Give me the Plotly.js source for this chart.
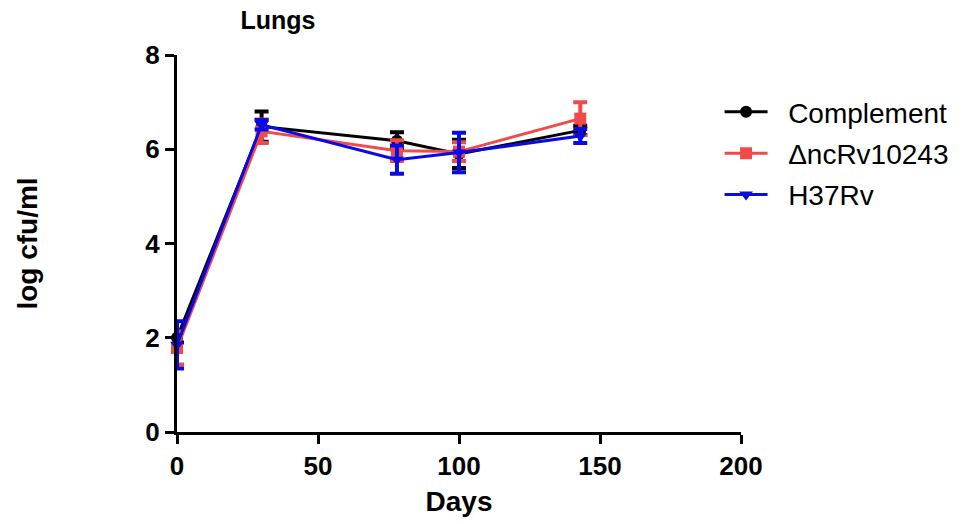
<!DOCTYPE html>
<html>
<head>
<meta charset="utf-8">
<script src="https://cdn.plot.ly/plotly-3.0.1.min.js"></script>
<style>html,body{margin:0;padding:0;background:#fff;}#chart{width:969px;height:524px;}</style>
</head>
<body>
<div id="chart"></div>
<script>
const days = [0, 30, 78, 100, 143];
const seriesNames = ["Complement", "\u0394ncRv10243", "H37Rv"];
const complementVals = [2.0, 6.48, 6.18, 5.9, 6.4];
const complementErr = [0.1, 0.32, 0.18, 0.3, 0.1];
const mutantVals = [1.78, 6.38, 5.97, 5.95, 6.65];
const mutantErr = [0.35, 0.25, 0.22, 0.2, 0.35];
const h37rvVals = [1.85, 6.52, 5.78, 5.93, 6.28];
const h37rvErr = [0.5, 0.1, 0.3, 0.42, 0.15];
const xTicks = [0, 50, 100, 150, 200];
const yTicks = [0, 2, 4, 6, 8];

const colors = ["#000000", "#f24a4a", "#0a0ae6"];
const symbols = ["circle", "square", "triangle-down"];
const vals = [complementVals, mutantVals, h37rvVals];
const errs = [complementErr, mutantErr, h37rvErr];

const traces = seriesNames.map((n, i) => ({
  x: days, y: vals[i], name: "\u00a0\u00a0" + n, type: "scatter", mode: "lines+markers",
  legendgroup: "g" + i,
  line: {color: colors[i], width: 3},
  marker: {color: colors[i], symbol: symbols[i], size: 12},
  error_y: {type: "data", array: errs[i], visible: true, color: colors[i], thickness: 4, width: 7},
  cliponaxis: false
}));

const layout = {
  width: 969, height: 524,
  margin: {l: 177, r: 228, t: 55, b: 92},
  paper_bgcolor: "#fff", plot_bgcolor: "#fff",
  font: {family: "Arial, Liberation Sans, sans-serif", color: "#000"},
  title: {text: "<b>Lungs</b>", x: 0.179, xref: "paper", xanchor: "center", y: 0.962, yref: "container", yanchor: "middle", font: {size: 25}},
  xaxis: {
    range: [0, 200], tickvals: xTicks, ticktext: xTicks.map(v => "<b>" + v + "</b>"),
    showgrid: false, zeroline: false, showline: true, linecolor: "#000", linewidth: 3,
    ticks: "outside", ticklen: 9, tickwidth: 3, tickcolor: "#000", tickfont: {size: 26},
    title: {text: "<b>Days</b>", font: {size: 28}, standoff: 12}
  },
  yaxis: {
    range: [0, 8], tickvals: yTicks, ticktext: yTicks.map(v => "<b>" + v + "</b>"),
    showgrid: false, zeroline: false, showline: true, linecolor: "#000", linewidth: 3,
    ticks: "outside", ticklen: 9, tickwidth: 3, tickcolor: "#000", tickfont: {size: 26},
    title: {text: "<b>log cfu/ml</b>", font: {size: 28}, standoff: 100}
  },
  showlegend: true,
  legend: {x: 0.962, y: 0.915, xanchor: "left", yanchor: "top", traceorder: "grouped", tracegroupgap: 2,
    font: {size: 28}, bgcolor: "rgba(0,0,0,0)", itemwidth: 43}
};
Plotly.newPlot("chart", traces, layout, {displayModeBar: false});
</script>
</body>
</html>
